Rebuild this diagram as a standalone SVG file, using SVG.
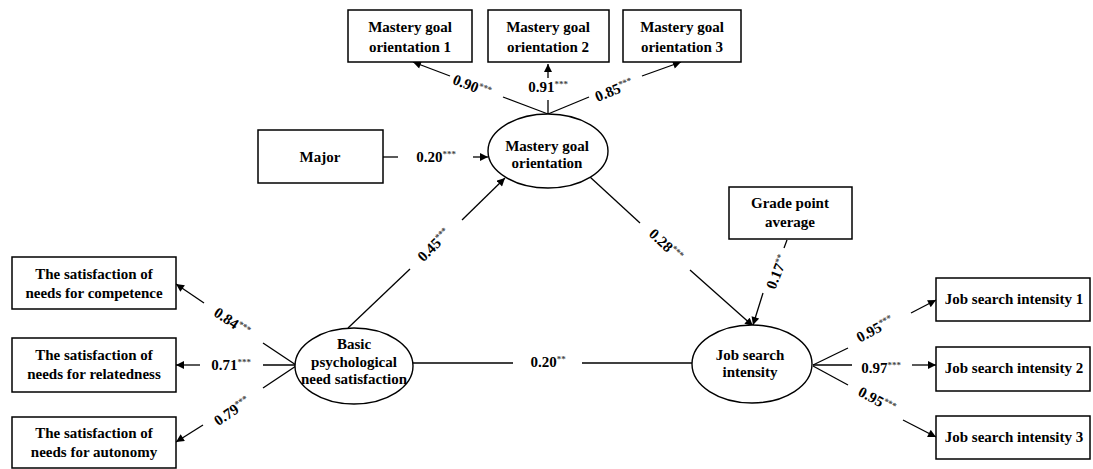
<svg xmlns="http://www.w3.org/2000/svg" width="1093" height="469" viewBox="0 0 1093 469">
<style>
.box{fill:#fff;stroke:#000;stroke-width:1.5}
.ell{fill:#fff;stroke:#000;stroke-width:1.4}
.t{font-family:"Liberation Serif","Times New Roman",serif;font-weight:bold;font-size:15px;fill:#000;text-anchor:middle}
.l{font-family:"Liberation Serif","Times New Roman",serif;font-weight:bold;font-size:15px;fill:#000;text-anchor:middle}
.s{font-size:9px;fill:#444}
.ln{stroke:#000;stroke-width:1.3;fill:none}
.ar{stroke:#000;stroke-width:1.3;fill:none;marker-end:url(#ah)}
</style>
<defs>
<marker id="ah" viewBox="0 0 10 10" refX="10" refY="5" markerWidth="9" markerHeight="8" markerUnits="userSpaceOnUse" orient="auto">
<path d="M0,0 L10,5 L0,10 Z" fill="#000"/>
</marker>
</defs>
<rect width="1093" height="469" fill="#fff"/>

<g id="connectors">
<!-- MGO to indicators -->
<line class="ln" x1="548" y1="114" x2="503" y2="97"/>
<line class="ar" x1="450" y1="76" x2="413" y2="62"/>
<line class="ln" x1="548" y1="114" x2="548" y2="100"/>
<line class="ar" x1="548" y1="78" x2="548" y2="64"/>
<line class="ln" x1="548" y1="114" x2="589" y2="97"/>
<line class="ar" x1="642" y1="76" x2="681" y2="62"/>
<!-- Major -->
<line class="ln" x1="383" y1="157" x2="398" y2="157"/>
<line class="ar" x1="473" y1="157" x2="488" y2="157"/>
<!-- BPNS to MGO -->
<line class="ln" x1="348" y1="328" x2="410" y2="269"/>
<line class="ar" x1="462" y1="220" x2="505" y2="178"/>
<!-- MGO to JSI -->
<line class="ln" x1="590" y1="177" x2="640" y2="223"/>
<line class="ar" x1="690" y1="270" x2="753" y2="326"/>
<!-- GPA to JSI -->
<line class="ln" x1="787" y1="240" x2="784" y2="248"/>
<line class="ar" x1="763" y1="293" x2="753" y2="325"/>
<!-- BPNS to JSI -->
<line class="ln" x1="413" y1="363" x2="513" y2="363"/>
<line class="ln" x1="582" y1="363" x2="692" y2="363"/>
<!-- BPNS to indicators -->
<line class="ln" x1="296" y1="365" x2="263" y2="343"/>
<line class="ar" x1="204" y1="303" x2="176" y2="284"/>
<line class="ln" x1="296" y1="365" x2="263" y2="365"/>
<line class="ar" x1="200" y1="365" x2="176" y2="365"/>
<line class="ln" x1="296" y1="366" x2="263" y2="388"/>
<line class="ar" x1="203" y1="425" x2="176" y2="442"/>
<!-- JSI to indicators -->
<line class="ln" x1="813" y1="365" x2="848" y2="348"/>
<line class="ar" x1="911" y1="313" x2="936" y2="300"/>
<line class="ln" x1="813" y1="365" x2="852" y2="365"/>
<line class="ar" x1="912" y1="365" x2="936" y2="365"/>
<line class="ln" x1="813" y1="366" x2="848" y2="385"/>
<line class="ar" x1="903" y1="420" x2="936" y2="437"/>

<!-- labels -->
<text class="l" transform="translate(472,86) rotate(21)" y="5">0.90<tspan class="s" dy="-5">***</tspan></text>
<text class="l" x="548" y="92">0.91<tspan class="s" dy="-5">***</tspan></text>
<text class="l" transform="translate(614,90) rotate(-22)" y="5">0.85<tspan class="s" dy="-5">***</tspan></text>
<text class="l" x="436" y="162">0.20<tspan class="s" dy="-5">***</tspan></text>
<text class="l" transform="translate(434,245) rotate(-45)" y="5">0.45<tspan class="s" dy="-5">***</tspan></text>
<text class="l" transform="translate(666,245) rotate(43)" y="5">0.28<tspan class="s" dy="-5">***</tspan></text>
<text class="l" transform="translate(777,272) rotate(-68)" y="5">0.17<tspan class="s" dy="-5">**</tspan></text>
<text class="l" x="548" y="367">0.20<tspan class="s" dy="-5">**</tspan></text>
<text class="l" transform="translate(232,322) rotate(34)" y="5">0.84<tspan class="s" dy="-5">***</tspan></text>
<text class="l" x="231" y="370">0.71<tspan class="s" dy="-5">***</tspan></text>
<text class="l" transform="translate(232,411) rotate(-34)" y="5">0.79<tspan class="s" dy="-5">***</tspan></text>
<text class="l" transform="translate(875,329) rotate(-28)" y="5">0.95<tspan class="s" dy="-5">***</tspan></text>
<text class="l" x="881" y="373">0.97<tspan class="s" dy="-5">***</tspan></text>
<text class="l" transform="translate(877,400) rotate(28)" y="5">0.95<tspan class="s" dy="-5">***</tspan></text>
</g>

<g id="mgo1"><rect class="box" x="348" y="10" width="124" height="52"/><text class="t" x="410" y="32">Mastery goal</text><text class="t" x="410" y="52">orientation 1</text></g>
<g id="mgo2"><rect class="box" x="488" y="10" width="121" height="52"/><text class="t" x="548" y="32">Mastery goal</text><text class="t" x="548" y="52">orientation 2</text></g>
<g id="mgo3"><rect class="box" x="623" y="10" width="118" height="52"/><text class="t" x="682" y="32">Mastery goal</text><text class="t" x="682" y="52">orientation 3</text></g>
<g id="major"><rect class="box" x="258" y="130" width="125" height="53"/><text class="t" x="320" y="162">Major</text></g>
<g id="mgo"><ellipse class="ell" cx="548" cy="151" rx="60" ry="37"/><text class="t" x="547" y="151">Mastery goal</text><text class="t" x="547" y="168">orientation</text></g>
<g id="gpa"><rect class="box" x="729" y="187" width="123" height="52"/><text class="t" x="790" y="208">Grade point</text><text class="t" x="790" y="227">average</text></g>
<g id="bpns"><ellipse class="ell" cx="354" cy="366" rx="59" ry="38"/><text class="t" x="354" y="349">Basic</text><text class="t" x="354" y="367">psychological</text><text class="t" x="354" y="384">need satisfaction</text></g>
<g id="jsi"><ellipse class="ell" cx="752" cy="364" rx="60" ry="39"/><text class="t" x="750" y="360">Job search</text><text class="t" x="750" y="377">intensity</text></g>
<g id="comp"><rect class="box" x="12" y="257" width="164" height="52"/><text class="t" x="94" y="279">The satisfaction of</text><text class="t" x="94" y="298">needs for competence</text></g>
<g id="rel"><rect class="box" x="12" y="338" width="164" height="54"/><text class="t" x="94" y="360">The satisfaction of</text><text class="t" x="94" y="379">needs for relatedness</text></g>
<g id="aut"><rect class="box" x="12" y="417" width="164" height="51"/><text class="t" x="94" y="438">The satisfaction of</text><text class="t" x="94" y="457">needs for autonomy</text></g>
<g id="jsi1"><rect class="box" x="936" y="278" width="154" height="43"/><text class="t" x="1014" y="304">Job search intensity 1</text></g>
<g id="jsi2"><rect class="box" x="936" y="347" width="154" height="44"/><text class="t" x="1014" y="373">Job search intensity 2</text></g>
<g id="jsi3"><rect class="box" x="936" y="416" width="154" height="43"/><text class="t" x="1014" y="442">Job search intensity 3</text></g>
</svg>
